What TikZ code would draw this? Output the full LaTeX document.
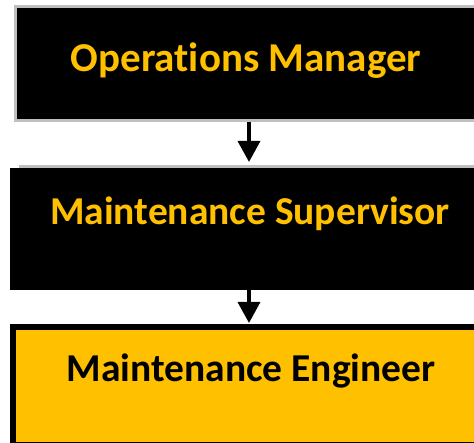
\documentclass[tikz,border=0pt]{standalone}
\usepackage{fontspec}
\setmainfont{Carlito}[Ligatures=NoCommon]
\usetikzlibrary{arrows.meta}
\definecolor{gold}{HTML}{FFC000}
\definecolor{greyline}{HTML}{BFBFBF}
\tikzset{
  boxlabel/.style={font=\fontsize{39.5}{42}\selectfont\bfseries, anchor=base, inner sep=0pt},
  flowarrow/.style={draw=black, line width=3.5pt, -{Triangle[width=22pt,length=21pt]}}
}
\begin{document}
\begin{tikzpicture}[x=1pt,y=-1pt]
\useasboundingbox (0,0) rectangle (474,443);
\clip (0,0) rectangle (474,443);
% box 1
\node[draw=greyline, line width=3pt, fill=black, inner sep=0pt, anchor=north west,
      minimum width=467pt, minimum height=114pt] (box1) at (14,5) {};
% box 2
\node[fill=black, inner sep=0pt, outer sep=0pt, anchor=north west,
      minimum width=478pt, minimum height=122pt] (box2) at (10,168) {};
\fill[greyline] ([xshift=9pt,yshift=3pt]box2.north west) rectangle (box2.north east);
% box 3
\node[draw=black, line width=6pt, fill=gold, inner sep=0pt, anchor=north west,
      minimum width=472pt, minimum height=118pt] (box3) at (10,324) {};
% labels
\node[boxlabel, text=gold, font=\fontsize{41}{43}\selectfont\bfseries] (t1) at (246,72) {Operations Manager};
\node[boxlabel, text=gold] (t2) at (250,225) {Maintenance Supervisor};
\node[boxlabel, text=black] (t3) at (251,382) {Maintenance Engineer};
% arrows
\draw[flowarrow, shorten >=6pt] (box1.south) -- (box1.south |- box2.north);
\draw[flowarrow, shorten >=1pt] (box2.south) -- (box2.south |- box3.north);
\end{tikzpicture}
\end{document}
